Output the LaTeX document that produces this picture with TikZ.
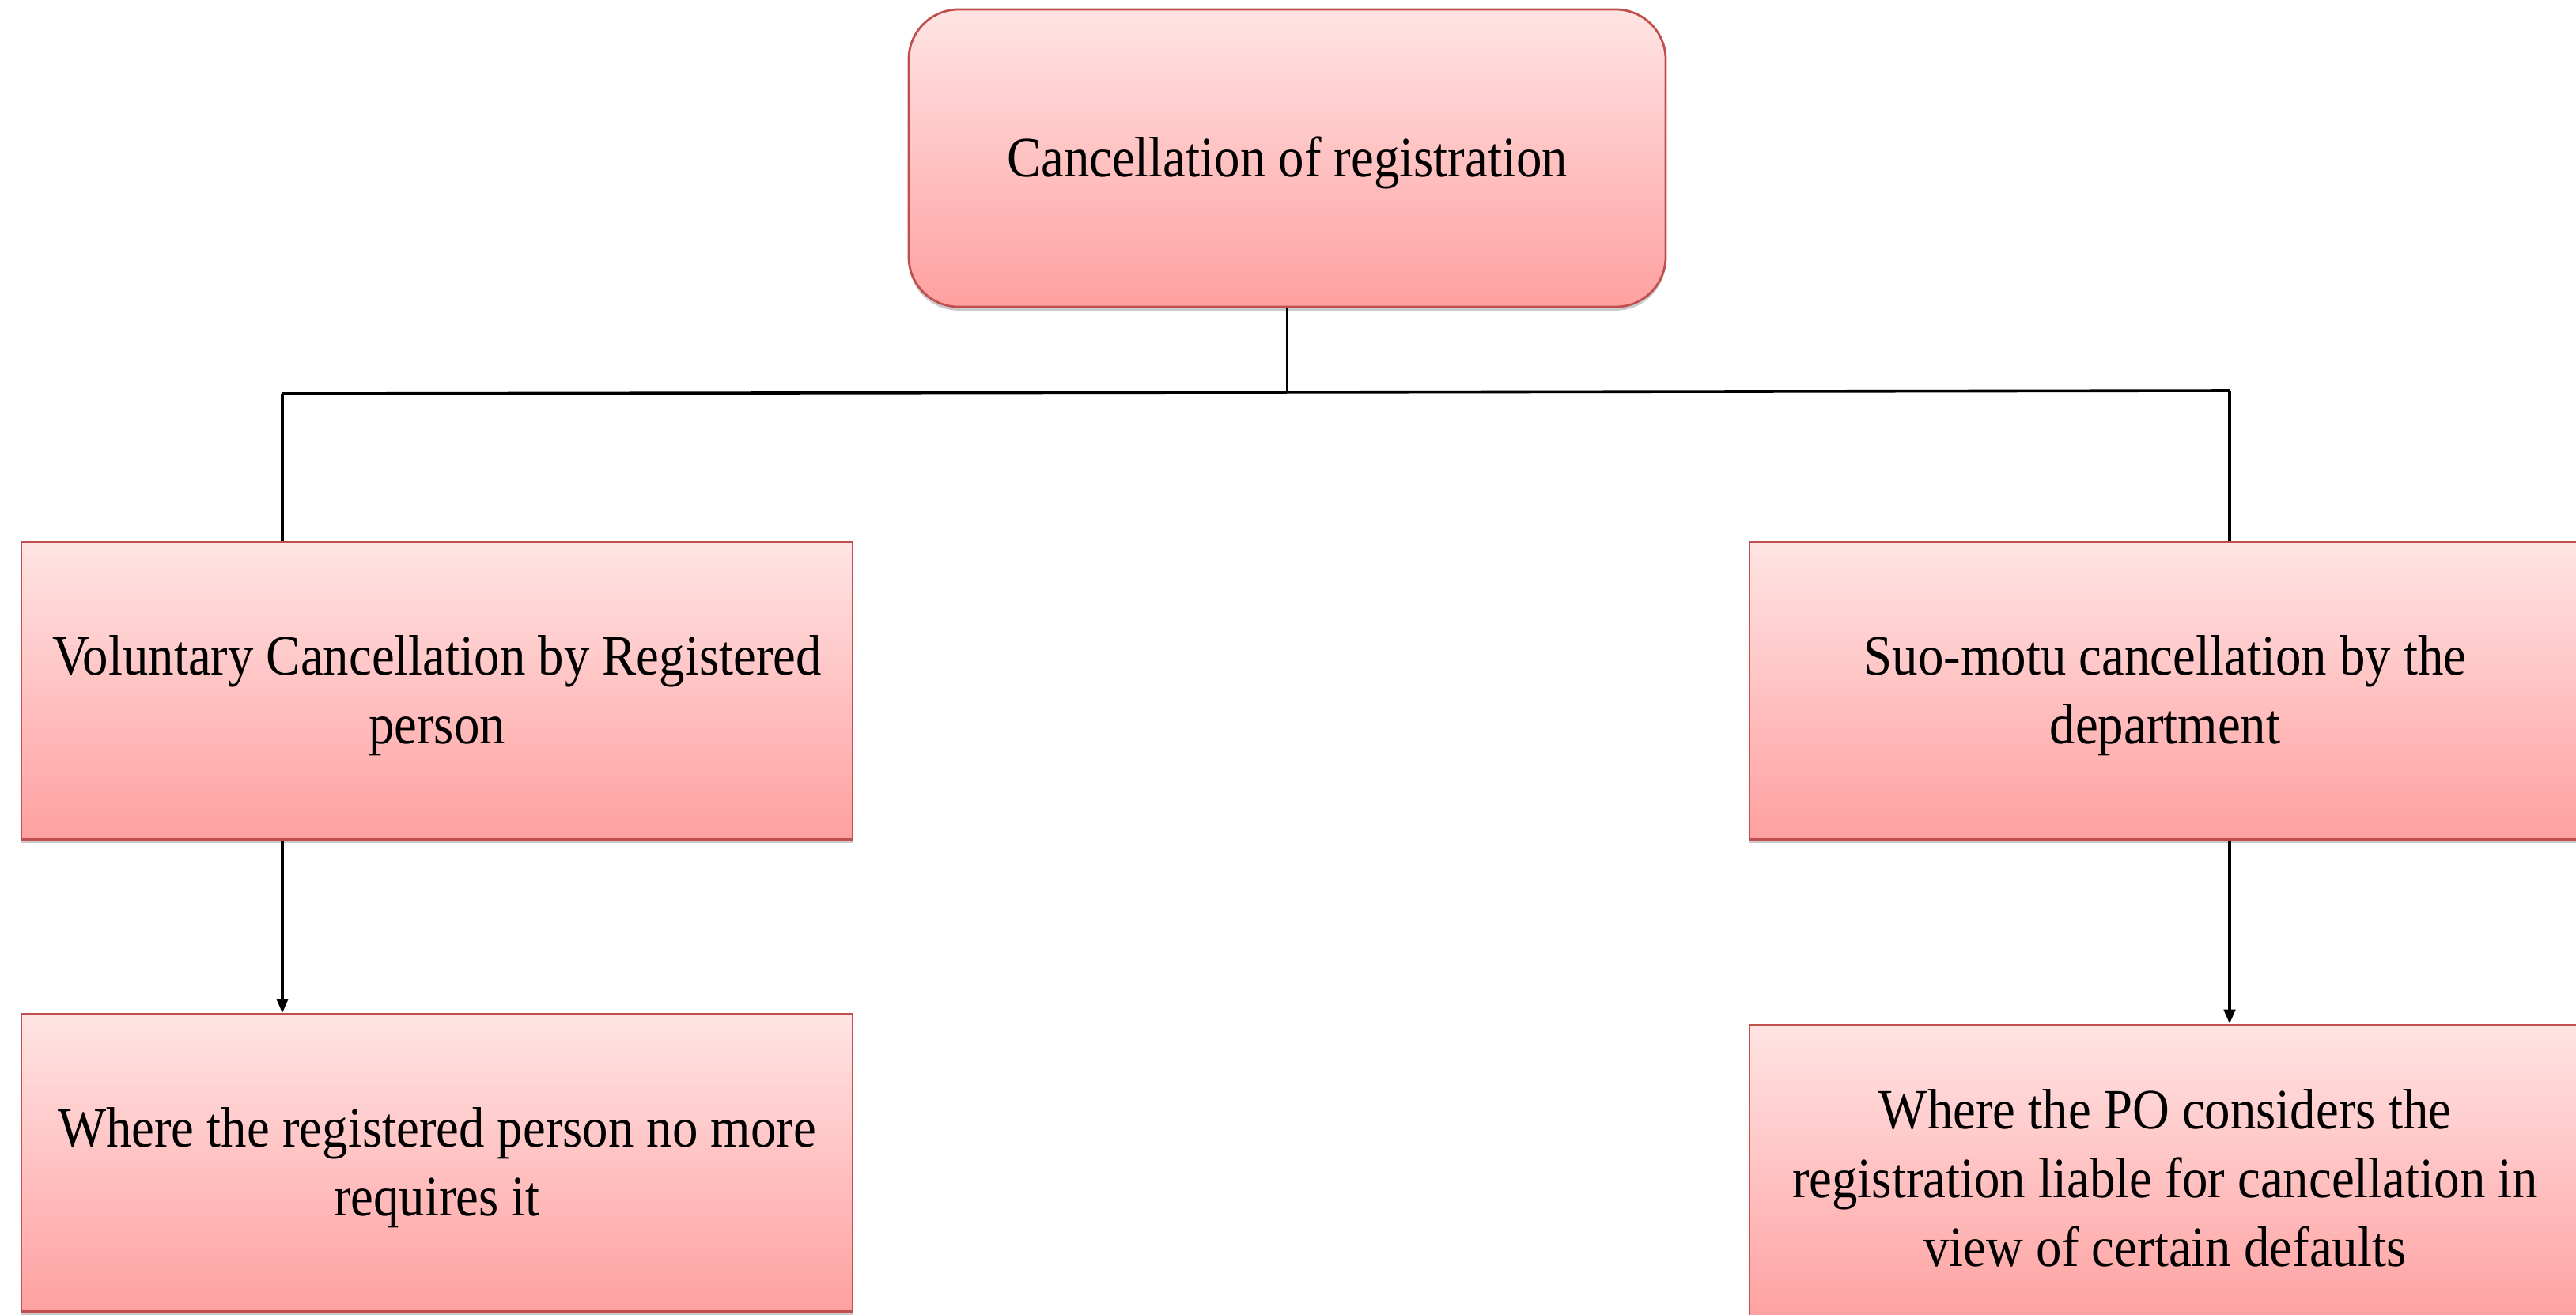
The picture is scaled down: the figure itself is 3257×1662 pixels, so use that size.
\documentclass[tikz,border=0pt]{standalone}
\usepackage{fontspec}
\setmainfont{Liberation Serif}[FakeStretch=0.9]
\usetikzlibrary{arrows.meta,shadows}
\definecolor{boxtop}{RGB}{255,228,228}
\definecolor{boxbot}{RGB}{255,160,160}
\definecolor{boxline}{RGB}{192,80,77}
\newcommand{\toplift}{\rule{0pt}{15.5pt}}
\tikzset{
  box/.style={draw=boxline, line width=0.7pt, top color=boxtop, bottom color=boxbot,
    minimum width=262.75pt, minimum height=94pt, align=center, inner sep=0pt,
    font=\fontsize{18}{21.8}\selectfont,
    drop shadow={shadow xshift=0pt, shadow yshift=-1.2pt, opacity=0.35, fill=black!60}},
  topbox/.style={box, rounded corners=15.75pt, minimum width=239.25pt},
  conn/.style={draw=black, line width=0.9pt},
  arr/.style={conn, -{Triangle[length=4.5pt,width=3.6pt]}}
}
\begin{document}
\begin{tikzpicture}[x=0.25pt,y=-0.25pt]
\useasboundingbox (0,0) rectangle (3257,1662);
\node[topbox] (top) at (1627.5,200) {\toplift Cancellation of registration};
\node[box] (vol) at (552.5,873.5) {\toplift Voluntary Cancellation by Registered\\person};
\node[box] (suo) at (2737.5,873.5) {\toplift Suo-motu cancellation by the\\department};
\node[box] (volb) at (552.5,1470.5) {\toplift Where the registered person no more\\requires it};
\node[box] (suob) at (2737.5,1484) {\toplift Where the PO considers the\\registration liable for cancellation in\\view of certain defaults};
\coordinate (jL) at (357,498);
\coordinate (jM) at (1627.5,496);
\coordinate (jR) at (2819,494);
\draw[conn] (top.south) -- (jM);
\draw[conn] (jL) -- (jR);
\draw[conn] (jL) -- (jL |- vol.north);
\draw[conn] (jR) -- (jR |- suo.north);
\draw[arr] (jL |- vol.south) -- (jL |- volb.north);
\draw[arr] (jR |- suo.south) -- (jR |- suob.north);
\end{tikzpicture}
\end{document}
